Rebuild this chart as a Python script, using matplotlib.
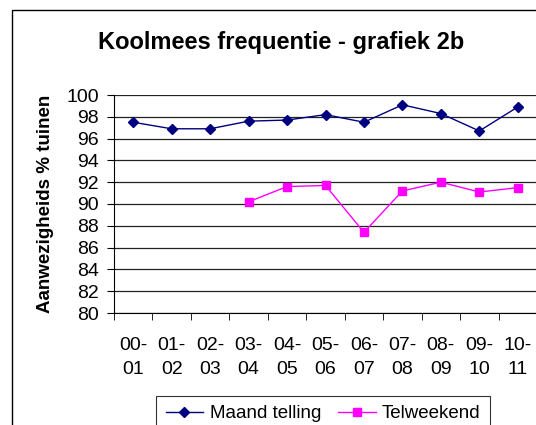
import matplotlib
matplotlib.use("Agg")
import matplotlib.pyplot as plt
from matplotlib.patches import Rectangle
import numpy as np

plt.rcParams['font.family'] = ['Liberation Sans', 'DejaVu Sans']

# data
seizoenen = ["00-\n01", "01-\n02", "02-\n03", "03-\n04", "04-\n05", "05-\n06",
             "06-\n07", "07-\n08", "08-\n09", "09-\n10", "10-\n11"]
maand_telling = [97.5, 96.9, 96.9, 97.6, 97.7, 98.2, 97.5, 99.1, 98.3, 96.7, 98.9]
telweekend = [np.nan, np.nan, np.nan, 90.2, 91.6, 91.7, 87.4, 91.2, 92.0, 91.1, 91.5]
y_ticks = list(range(80, 101, 2))

fig = plt.figure(figsize=(5.36, 4.25), dpi=100)
ax = fig.add_axes([114 / 536, 1 - 313 / 425, 423 / 536, 218 / 425])

x = np.arange(len(seizoenen))
ax.plot(x, maand_telling, color='#000080', lw=1, marker='D', ms=5,
        label='Maand telling')
ax.plot(x, telweekend, color='#FF00FF', lw=1, marker='s', ms=6,
        label='Telweekend')

ax.set_xlim(-0.5, len(seizoenen) - 0.5)
ax.set_ylim(80, 100)
ax.set_yticks(y_ticks)
ax.set_yticklabels([str(t) for t in y_ticks], fontsize=14)
ax.yaxis.grid(True, color='#222222', lw=0.9)
ax.set_axisbelow(True)

ax.set_xticks(x)
ax.set_xticklabels(seizoenen, fontsize=14, linespacing=1.55)
ax.set_xticks(np.arange(-0.5, len(seizoenen)), minor=True)
ax.tick_params(axis='x', which='major', length=0, pad=17)
ax.tick_params(axis='x', which='minor', length=5, color='black')
ax.tick_params(axis='y', length=5, color='black', pad=6)

for s in ['top', 'right']:
    ax.spines[s].set_visible(False)
ax.spines['left'].set_color('black')
ax.spines['bottom'].set_color('black')

ax.set_ylabel('Aanwezigheids % tuinen', fontsize=13.5, fontweight='bold', labelpad=9)
fig.text(0.525, 1 - 42 / 425, 'Koolmees frequentie - grafiek 2b', ha='center',
         va='center', fontsize=17, fontweight='bold')

# chart border, runs past the right and bottom edge like the original
fig.patches.append(Rectangle((12 / 536, -0.1), 1.0, 1.1 - 10 / 425, transform=fig.transFigure,
                             fill=False, ec='black', lw=1))

leg = fig.legend(loc='upper center', bbox_to_anchor=(0.603, 1 - 396 / 425), ncol=2,
                 fontsize=13.5, frameon=True, fancybox=False, edgecolor='black',
                 handlelength=2.0, columnspacing=0.9, borderpad=0.5, handletextpad=0.35,
                 borderaxespad=0)
leg.get_frame().set_linewidth(0.8)

fig.savefig('out.png', dpi=100)
